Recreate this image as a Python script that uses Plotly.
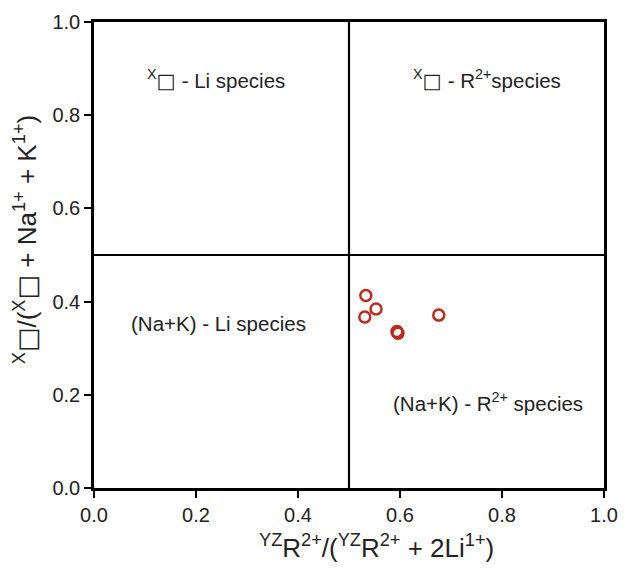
import plotly.graph_objects as go

x_vals = [0.533, 0.531, 0.553, 0.594, 0.596, 0.676]
y_vals = [0.413, 0.367, 0.384, 0.336, 0.332, 0.371]
tick_vals = [0.0, 0.2, 0.4, 0.6, 0.8, 1.0]
tick_text = ["0.0", "0.2", "0.4", "0.6", "0.8", "1.0"]

FONT = "Liberation Sans, Arial, sans-serif"
SQ = "<span style='font-family:DejaVu Sans;font-weight:bold'>□</span>"

fig = go.Figure()
fig.add_trace(go.Scatter(
    x=x_vals, y=y_vals, mode="markers",
    marker=dict(symbol="circle-open", size=11, color="#c0281c", line=dict(width=2.5, color="#c0281c")),
    showlegend=False,
))

# quadrant dividers
fig.add_shape(type="line", x0=0.5, x1=0.5, y0=0, y1=1, xref="x", yref="y", line=dict(color="black", width=2.2))
fig.add_shape(type="line", x0=0, x1=1, y0=0.5, y1=0.5, xref="x", yref="y", line=dict(color="black", width=2.2))

ann = [
    (0.24, 0.877, "<sup>X</sup>" + SQ + " - Li species"),
    (0.77, 0.877, "<sup>X</sup>" + SQ + " - R<sup>2+</sup>species"),
    (0.245, 0.352, "(Na+K) - Li species"),
    (0.773, 0.185, "(Na+K) - R<sup>2+</sup> species"),
]
for ax_, ay_, t in ann:
    fig.add_annotation(x=ax_, y=ay_, text=t, showarrow=False, xref="x", yref="y",
                       font=dict(family=FONT, size=20.5, color="#222"))

# axis titles
fig.add_annotation(x=0.553, y=-0.125, xref="paper", yref="paper", showarrow=False,
                   xanchor="center", yanchor="middle",
                   text="<sup>YZ</sup>R<sup>2+</sup>/(<sup>YZ</sup>R<sup>2+</sup> + 2Li<sup>1+</sup>)",
                   font=dict(family=FONT, size=26, color="#222"))
fig.add_annotation(x=-0.135, y=0.532, xref="paper", yref="paper", showarrow=False,
                   xanchor="center", yanchor="middle", textangle=-90,
                   text="<sup>X</sup>" + SQ + "/(<sup>X</sup>" + SQ + " + Na<sup>1+</sup> + K<sup>1+</sup>)",
                   font=dict(family=FONT, size=26, color="#222"))

axis_common = dict(
    range=[0, 1], tickvals=tick_vals, ticktext=tick_text, ticks="outside", ticklen=7, tickwidth=2,
    tickcolor="black", showline=True, linecolor="black", linewidth=2.5, mirror=True,
    showgrid=False, zeroline=False, tickfont=dict(family=FONT, size=20, color="#222"),
    automargin=False,
)
fig.update_xaxes(**axis_common)
fig.update_yaxes(**axis_common)

fig.update_layout(
    width=633, height=568,
    margin=dict(l=94, r=29, t=22, b=80),
    plot_bgcolor="white", paper_bgcolor="white",
)
fig.write_html("out.html")
